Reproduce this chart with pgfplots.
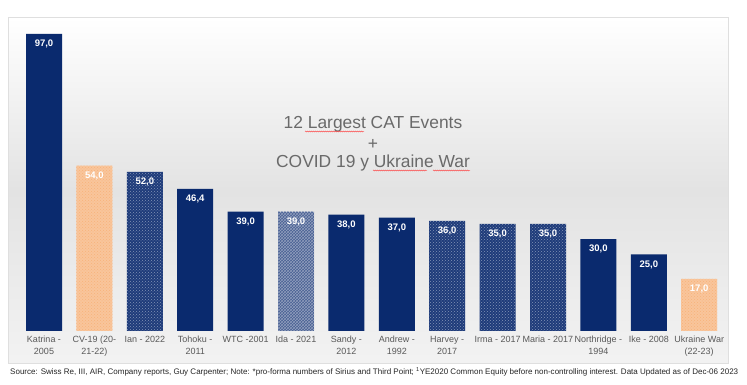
\documentclass[border=0pt]{standalone}
\usepackage{pgfplots}
\pgfplotsset{compat=1.18}
\usepackage{graphicx}
\usepackage{fontspec}
\setmainfont{Liberation Sans}
\usetikzlibrary{patterns,decorations.pathmorphing}
\definecolor{navy}{HTML}{0A2A6E}
\definecolor{orng}{HTML}{F7B27A}
\definecolor{lbl}{HTML}{595959}
\definecolor{ttl}{HTML}{6A6A6A}
\begin{document}
\begin{tikzpicture}[x=1pt,y=1pt]
\useasboundingbox (0,0) rectangle (747,385);
\fill[white] (0,0) rectangle (747,385);
% panel
\shade[top color=white, bottom color=gray!10, middle color=gray!22, shading angle=0] (8,22) rectangle (728,368);
\draw[gray!25, line width=0.6pt] (8,22) rectangle (728,368);
\begin{axis}[
  at={(18.8pt,54pt)}, anchor=south west,
  scale only axis, width=705.6pt, height=306.2pt,
  xmin=-0.5, xmax=13.5, ymin=0, ymax=100,
  ybar, bar width=36pt, bar shift=0pt,
  hide y axis,
  axis x line*=bottom, axis line style={draw=none},
  major tick length=0pt,
  xtick={0,...,13},
  xticklabels={{Katrina -\\2005},{CV-19 (20-\\21-22)},{Ian - 2022},{Tohoku -\\2011},{WTC -2001},{Ida - 2021},{Sandy -\\2012},{Andrew -\\1992},{Harvey -\\2017},{Irma - 2017},{Maria - 2017},{Northridge -\\1994},{Ike - 2008},{Ukraine War\\(22-23)}},
  xticklabel style={font=\fontsize{9}{11.8}\selectfont, align=center, text=lbl, inner sep=0pt, anchor=north, yshift=-5pt},
  nodes near coords,
  nodes near coords style={font=\bfseries\fontsize{9.5}{11}\selectfont, text=white, anchor=north, inner sep=0pt, yshift=-6pt,
    /pgf/number format/.cd, fixed, fixed zerofill, precision=1, use comma, assume math mode=true},
  clip=false,
]
\addplot[draw=none, fill=navy] coordinates {(0,97) (3,46.4) (4,39) (6,38) (7,37) (11,30) (12,25)};
\addplot[draw=none, fill=orng!75, postaction={pattern=crosshatch dots, pattern color=orng}] coordinates {(1,54) (13,17)};
\addplot[draw=none, fill=navy!92, postaction={pattern=crosshatch dots, pattern color=white!50!navy}] coordinates {(2,52) (8,36) (9,35) (10,35)};
\addplot[draw=none, fill=navy!75, postaction={pattern=crosshatch, pattern color=white!55!navy}] coordinates {(5,39)};
\end{axis}
% title
\node[text=ttl, font=\fontsize{17.4}{20}\selectfont] at (373,261) {12 Largest CAT Events};
\node[text=ttl, font=\fontsize{17.4}{20}\selectfont] at (373,241) {+};
\node[text=ttl, font=\fontsize{17.4}{20}\selectfont] at (373,222) {COVID 19 y Ukraine War};
\draw[red!80, line width=0.4pt, decorate, decoration={snake, amplitude=0.5pt, segment length=2pt}] (305,253.5) -- (364,253.5);
\draw[red!80, line width=0.4pt, decorate, decoration={snake, amplitude=0.5pt, segment length=2pt}] (373,214.5) -- (427,214.5);
\draw[red!80, line width=0.4pt, decorate, decoration={snake, amplitude=0.5pt, segment length=2pt}] (433,214.5) -- (470,214.5);
% source
\node[anchor=west, inner sep=0pt, text=black!85] at (10,13) {\resizebox{728pt}{!}{Source: Swiss Re, III, AIR, Company reports, Guy Carpenter; Note: *pro-forma numbers of Sirius and Third Point; \textsuperscript{1}YE2020 Common Equity before non-controlling interest. Data Updated as of Dec-06 2023}};
\end{tikzpicture}
\end{document}
